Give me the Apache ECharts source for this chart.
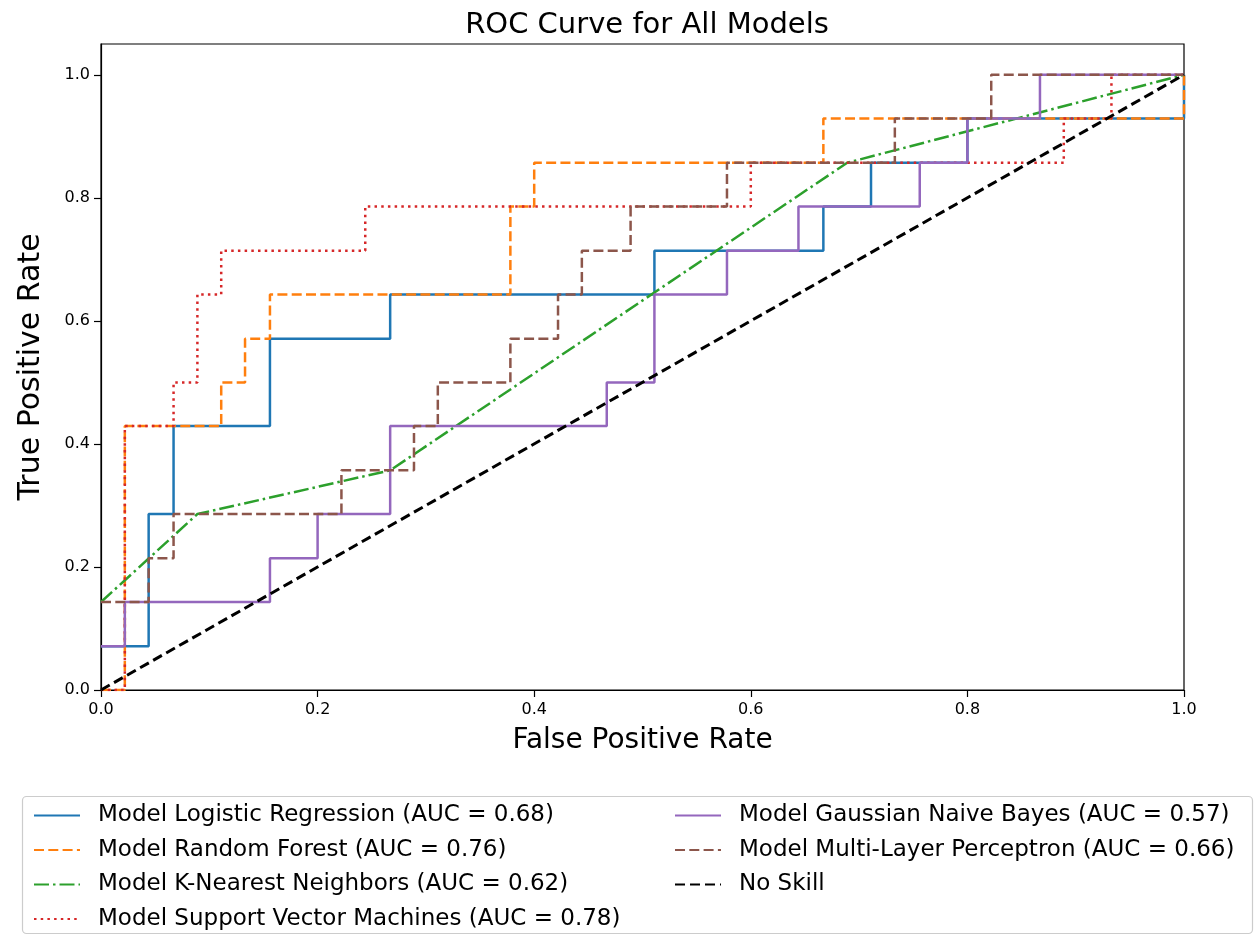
<!DOCTYPE html>
<html>
<head>
<meta charset="utf-8">
<title>ROC Curve for All Models</title>
<script src="https://cdn.jsdelivr.net/npm/echarts@6/dist/echarts.min.js"></script>
<style>
  html, body { margin: 0; padding: 0; background: #ffffff; }
  #chart { width: 1257px; height: 936px; }
</style>
</head>
<body>
<div id="chart"></div>
<script>
// ROC operating points (false positive rate / true positive rate) per model
const lrFpr  = [0, 0.044, 0.044, 0.067, 0.067, 0.156, 0.156, 0.267, 0.267, 0.511, 0.511, 0.667, 0.667, 0.711, 0.711, 0.8, 0.8, 1.0, 1.0];
const lrTpr  = [0.071, 0.071, 0.286, 0.286, 0.429, 0.429, 0.571, 0.571, 0.643, 0.643, 0.714, 0.714, 0.786, 0.786, 0.857, 0.857, 0.929, 0.929, 1.0];

const rfFpr  = [0, 0.022, 0.022, 0.111, 0.111, 0.133, 0.133, 0.156, 0.156, 0.378, 0.378, 0.4, 0.4, 0.667, 0.667, 1.0, 1.0];
const rfTpr  = [0, 0, 0.429, 0.429, 0.5, 0.5, 0.571, 0.571, 0.643, 0.643, 0.786, 0.786, 0.857, 0.857, 0.929, 0.929, 1.0];

const knnFpr = [0, 0.089, 0.267, 0.689, 1.0];
const knnTpr = [0.143, 0.286, 0.357, 0.857, 1.0];

const svmFpr = [0, 0.022, 0.022, 0.067, 0.067, 0.089, 0.089, 0.111, 0.111, 0.244, 0.244, 0.6, 0.6, 0.889, 0.889, 0.933, 0.933, 1.0];
const svmTpr = [0, 0, 0.429, 0.429, 0.5, 0.5, 0.643, 0.643, 0.714, 0.714, 0.786, 0.786, 0.857, 0.857, 0.929, 0.929, 1.0, 1.0];

const gnbFpr = [0, 0.022, 0.022, 0.156, 0.156, 0.2, 0.2, 0.267, 0.267, 0.467, 0.467, 0.511, 0.511, 0.578, 0.578, 0.644, 0.644, 0.756, 0.756, 0.8, 0.8, 0.867, 0.867, 1.0];
const gnbTpr = [0.071, 0.071, 0.143, 0.143, 0.214, 0.214, 0.286, 0.286, 0.429, 0.429, 0.5, 0.5, 0.643, 0.643, 0.714, 0.714, 0.786, 0.786, 0.857, 0.857, 0.929, 0.929, 1.0, 1.0];

const mlpFpr = [0, 0.044, 0.044, 0.067, 0.067, 0.222, 0.222, 0.289, 0.289, 0.311, 0.311, 0.378, 0.378, 0.422, 0.422, 0.444, 0.444, 0.489, 0.489, 0.578, 0.578, 0.733, 0.733, 0.822, 0.822, 1.0];
const mlpTpr = [0.143, 0.143, 0.214, 0.214, 0.286, 0.286, 0.357, 0.357, 0.429, 0.429, 0.5, 0.5, 0.571, 0.571, 0.643, 0.643, 0.714, 0.714, 0.786, 0.786, 0.857, 0.857, 0.929, 0.929, 1.0, 1.0];

const noSkillFpr = [0, 1];
const noSkillTpr = [0, 1];

// Legend labels with AUC scores
const modelNames = [
  'Model Logistic Regression (AUC = 0.68)',
  'Model Random Forest (AUC = 0.76)',
  'Model K-Nearest Neighbors (AUC = 0.62)',
  'Model Support Vector Machines (AUC = 0.78)',
  'Model Gaussian Naive Bayes (AUC = 0.57)',
  'Model Multi-Layer Perceptron (AUC = 0.66)',
  'No Skill'
];

// Axis tick values
const tickValues = [0, 0.2, 0.4, 0.6, 0.8, 1.0];

const FONT = 'DejaVu Sans';
const LW = 2.5;
const DASHED = [10, 4.3];
const DASHDOT = [15, 4, 2.5, 4];
const DOTTED = [2.5, 4.2];

function pairs(xs, ys) {
  return xs.map((x, i) => [x, ys[i]]);
}

function lineSeries(name, xs, ys, color, type, width) {
  return {
    name: name,
    type: 'line',
    data: pairs(xs, ys),
    symbol: 'none',
    showSymbol: false,
    smooth: false,
    animation: false,
    lineStyle: { color: color, width: width || LW, type: type, cap: 'butt' },
    itemStyle: { color: color }
  };
}

const chart = echarts.init(document.getElementById('chart'), null, { renderer: 'canvas' });

// Shared legend look: line-only handles, text offset from the handle
function legendBlock(names, left) {
  return {
    data: names,
    orient: 'vertical',
    left: left, top: 804,
    padding: 0,
    itemWidth: 46, itemHeight: 14, itemGap: 11.5,
    itemStyle: { opacity: 0 },
    textStyle: { fontFamily: FONT, fontSize: 23, lineHeight: 22, color: '#000', padding: [0, 0, 0, 13] },
    selectedMode: false
  };
}

const option = {
  backgroundColor: '#ffffff',
  animation: false,
  title: {
    text: 'ROC Curve for All Models',
    left: 642,
    top: 6,
    textAlign: 'center',
    textStyle: { fontFamily: FONT, fontSize: 29, fontWeight: 'normal', color: '#000' }
  },
  grid: {
    left: 101, right: 73, top: 44, bottom: 246,
    show: true, borderColor: '#000', borderWidth: 1.2, backgroundColor: 'transparent'
  },
  legend: [
    legendBlock(modelNames.slice(0, 4), 33),
    legendBlock(modelNames.slice(4), 674)
  ],
  graphic: [
    {
      type: 'rect',
      shape: { x: 22.5, y: 796.5, width: 1230, height: 137, r: 4 },
      style: { fill: 'rgba(255,255,255,0.8)', stroke: '#cccccc', lineWidth: 1.2 },
      z: -1
    }
  ],
  xAxis: {
    type: 'value',
    min: 0, max: 1, interval: 0.2,
    name: 'False Positive Rate',
    nameLocation: 'middle',
    nameGap: 37,
    nameTextStyle: { fontFamily: FONT, fontSize: 28, color: '#000' },
    axisLine: { show: true, onZero: false, lineStyle: { color: '#000', width: 1.2 } },
    axisTick: { show: true, inside: false, length: 7, lineStyle: { color: '#000', width: 1.2 } },
    axisLabel: {
      fontFamily: FONT, fontSize: 16, color: '#000', margin: 12,
      formatter: v => v.toFixed(1)
    },
    splitLine: { show: false }
  },
  yAxis: {
    type: 'value',
    min: 0, max: 1.05,
    name: 'True Positive Rate',
    nameLocation: 'middle',
    nameGap: 55,
    nameRotate: 90,
    nameTextStyle: { fontFamily: FONT, fontSize: 30, color: '#000' },
    axisLine: { show: true, onZero: false, lineStyle: { color: '#000', width: 1.2 } },
    axisTick: { show: true, inside: false, length: 7, customValues: tickValues, lineStyle: { color: '#000', width: 1.2 } },
    axisLabel: {
      fontFamily: FONT, fontSize: 16, color: '#000', margin: 11,
      customValues: tickValues,
      formatter: v => v.toFixed(1)
    },
    splitLine: { show: false }
  },
  series: [
    lineSeries(modelNames[0], lrFpr, lrTpr, '#1f77b4', 'solid'),
    lineSeries(modelNames[1], rfFpr, rfTpr, '#ff7f0e', DASHED),
    lineSeries(modelNames[2], knnFpr, knnTpr, '#2ca02c', DASHDOT),
    lineSeries(modelNames[3], svmFpr, svmTpr, '#d62728', DOTTED),
    lineSeries(modelNames[4], gnbFpr, gnbTpr, '#9467bd', 'solid'),
    lineSeries(modelNames[5], mlpFpr, mlpTpr, '#8c564b', DASHED),
    lineSeries(modelNames[6], noSkillFpr, noSkillTpr, '#000000', [10, 5], 3)
  ]
};

chart.setOption(option);
</script>
</body>
</html>
